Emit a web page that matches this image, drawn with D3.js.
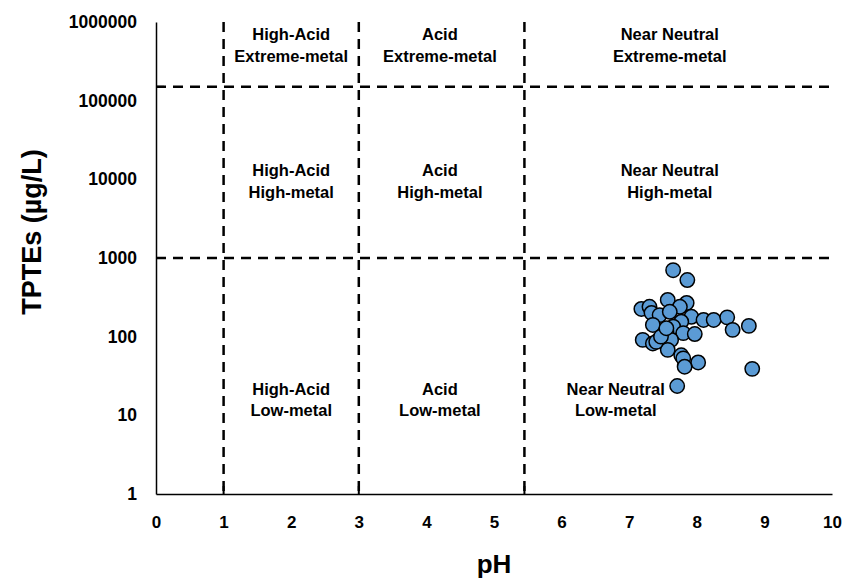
<!DOCTYPE html>
<html>
<head>
<meta charset="utf-8">
<script src="https://cdn.jsdelivr.net/npm/d3@7"></script>
<style>
  body { margin: 0; background: #fff; }
  text { font-family: 'Liberation Sans', Arial, sans-serif; font-weight: bold; fill: #000; }
</style>
</head>
<body>
<div id="chart"></div>
<script>
'use strict';

// sample values: pH and TPTEs (µg/L)
const phValues = [7.65, 7.86, 7.57, 7.85, 7.18, 7.30, 7.75, 7.33, 7.45, 7.60,
  7.92, 8.10, 8.25, 8.45, 8.77, 8.53, 7.77, 7.35, 7.65, 7.55,
  7.80, 7.97, 7.20, 7.35, 7.50, 7.62, 7.57, 7.77, 7.80, 8.02,
  7.82, 8.82, 7.71, 7.40, 7.47, 7.55];
const tpteValues = [700, 525, 293, 268, 225, 240, 240, 200, 188, 207,
  179, 163, 163, 176, 137, 122, 155, 141, 134, 116,
  111, 108, 91, 82, 95, 91, 68, 58, 53, 47,
  41.5, 39, 23.6, 86, 100, 128];

const xTicks = [0, 1, 2, 3, 4, 5, 6, 7, 8, 9, 10];
const yTicks = [1, 10, 100, 1000, 10000, 100000, 1000000];

// class boundaries
const phBounds = [1, 3, 5.45];
const metalBounds = [1000, 150000];

// label anchors (pH, TPTEs of first line)
const regionLabels = [
  { ph: 2, tpte: 680000, lines: ['High-Acid', 'Extreme-metal'] },
  { ph: 4.2, tpte: 680000, lines: ['Acid', 'Extreme-metal'] },
  { ph: 7.6, tpte: 680000, lines: ['Near Neutral', 'Extreme-metal'] },
  { ph: 2, tpte: 12600, lines: ['High-Acid', 'High-metal'] },
  { ph: 4.2, tpte: 12600, lines: ['Acid', 'High-metal'] },
  { ph: 7.6, tpte: 12600, lines: ['Near Neutral', 'High-metal'] },
  { ph: 2, tpte: 21, lines: ['High-Acid', 'Low-metal'] },
  { ph: 4.2, tpte: 21, lines: ['Acid', 'Low-metal'] },
  { ph: 6.8, tpte: 21, lines: ['Near Neutral', 'Low-metal'] }
];

const width = 858, height = 579;
const margin = { top: 22, right: 26, bottom: 85, left: 156 };

const svg = d3.select('#chart').append('svg')
  .attr('width', width)
  .attr('height', height);

const x = d3.scaleLinear().domain([0, 10]).range([margin.left, width - margin.right]);
const y = d3.scaleLog().domain([1, 1000000]).range([height - margin.bottom, margin.top]);

// axes (no tick marks, only labels)
svg.append('g')
  .attr('transform', 'translate(0,' + (height - margin.bottom) + ')')
  .call(d3.axisBottom(x).tickValues(xTicks).tickSize(0).tickPadding(22).tickFormat(d3.format('d')))
  .call(g => g.select('.domain').attr('stroke', '#000').attr('stroke-width', 1.5))
  .call(g => g.selectAll('text').style('font-size', '17px'));

svg.append('g')
  .attr('transform', 'translate(' + margin.left + ',0)')
  .call(d3.axisLeft(y).tickValues(yTicks).tickSize(0).tickPadding(19).tickFormat(d3.format('d')))
  .call(g => g.select('.domain').attr('stroke', '#000').attr('stroke-width', 1.5))
  .call(g => g.selectAll('text').style('font-size', '17.5px'));

// small ticks where boundaries meet the axes
svg.append('g').selectAll('line')
  .data(phBounds)
  .enter().append('line')
    .attr('x1', d => x(d)).attr('x2', d => x(d))
    .attr('y1', y(1)).attr('y2', y(1) - 8)
    .attr('stroke', '#000').attr('stroke-width', 2);

svg.append('g').selectAll('line')
  .data(metalBounds)
  .enter().append('line')
    .attr('x1', x(0)).attr('x2', x(0) + 8)
    .attr('y1', d => y(d)).attr('y2', d => y(d))
    .attr('stroke', '#000').attr('stroke-width', 2);

// dashed boundaries
const bounds = svg.append('g')
  .attr('stroke', '#000')
  .attr('stroke-width', 2.5)
  .attr('stroke-dasharray', '10,7');

bounds.selectAll('.vb')
  .data(phBounds)
  .enter().append('line')
    .attr('class', 'vb')
    .attr('x1', d => x(d)).attr('x2', d => x(d))
    .attr('y1', y(1000000)).attr('y2', y(1));

bounds.selectAll('.hb')
  .data(metalBounds)
  .enter().append('line')
    .attr('class', 'hb')
    .attr('x1', x(0)).attr('x2', x(10))
    .attr('y1', d => y(d)).attr('y2', d => y(d));

// region labels
const labels = svg.append('g');
regionLabels.forEach(function (r) {
  const t = labels.append('text')
    .attr('x', x(r.ph))
    .attr('y', y(r.tpte) + 5)
    .attr('text-anchor', 'middle')
    .style('font-size', '16.5px');
  r.lines.forEach(function (line, i) {
    t.append('tspan')
      .attr('x', x(r.ph))
      .attr('dy', i === 0 ? 0 : 21.5)
      .text(line);
  });
});

// points
const points = phValues.map((p, i) => ({ ph: p, tpte: tpteValues[i] }));
svg.append('g').selectAll('circle')
  .data(points)
  .enter().append('circle')
    .attr('cx', d => x(d.ph))
    .attr('cy', d => y(d.tpte))
    .attr('r', 7.2)
    .attr('fill', '#5B9BD5')
    .attr('stroke', '#000')
    .attr('stroke-width', 1.5);

// axis titles
svg.append('text')
  .attr('x', (margin.left + width - margin.right) / 2)
  .attr('y', 573)
  .attr('text-anchor', 'middle')
  .style('font-size', '26px')
  .text('pH');

svg.append('text')
  .attr('transform', 'translate(41,232) rotate(-90)')
  .attr('text-anchor', 'middle')
  .style('font-size', '27px')
  .text('TPTEs (µg/L)');
</script>
</body>
</html>
